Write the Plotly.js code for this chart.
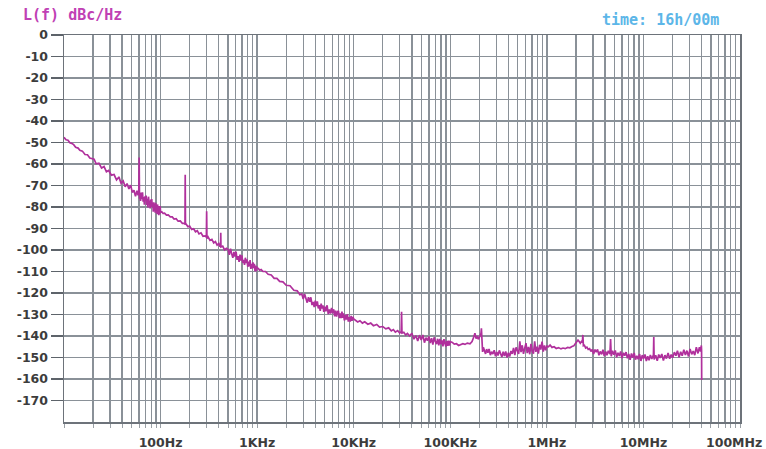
<!DOCTYPE html>
<html>
<head>
<meta charset="utf-8">
<script src="https://cdn.plot.ly/plotly-3.0.1.min.js"></script>
<style>html,body{margin:0;padding:0;background:#fff;}#chart{width:766px;height:449px;}</style>
</head>
<body>
<div id="chart"></div>
<script>
// Phase noise L(f) in dBc/Hz versus offset frequency (Hz)
const freq10to100 = [10,10.5,11,11.5,12,12.6,13.2,14,14.6,15.5,16.5,17.5,18.5,19.5,20.5,21.5,23,24.5,26,27.5,29,31,33,35,37,39,41,43,45,47,49,51,53,55,57,58.5,59.5,60,60.5,61,62,63,64,65,66,67,68,69,70,71,72,73,74,75,76,77,78,79,80,81,82,83,84,85,86,87,88,89,90,91,92,93,94,95,96,97,98,99,100];
const level10to100 = [-47.6,-48.7,-48.9,-50.1,-50.4,-51.0,-52.2,-52.6,-53.6,-54.0,-55.6,-55.7,-57.2,-57.4,-57.8,-59.9,-59.6,-61.9,-61.2,-63.6,-63.0,-65.2,-64.9,-67.4,-66.0,-69.0,-67.9,-70.6,-69.1,-71.6,-69.8,-73.2,-72.2,-75.0,-72.4,-74.6,-72.6,-57.0,-76.2,-74.0,-77.2,-73.3,-76.3,-73.2,-77.5,-75.4,-78.9,-75.0,-77.1,-74.7,-79.1,-76.2,-80.2,-75.2,-78.9,-77.8,-80.7,-76.5,-80.1,-76.3,-79.7,-78.0,-82.2,-77.8,-81.6,-79.1,-82.6,-78.0,-81.1,-79.0,-83.4,-78.8,-82.4,-80.7,-83.8,-79.6,-83.3,-79.6,-82.5];

const freq100to1k = [103,106,110,115,120,126,132,138,145,152,160,168,175,179,180,181,184,192,200,210,220,230,240,250,262,275,288,298,300,302,310,325,340,355,370,385,400,412,418,420,422,440,460,480,500,515,530,545,560,575,590,605,620,635,650,665,680,695,710,725,740,755,770,785,800,815,830,845,860,875,890,905,920,935,950,965,980,990,1000];
const level100to1k = [-82.2,-83.0,-82.9,-83.8,-83.7,-84.6,-84.6,-85.6,-85.4,-86.6,-86.5,-87.6,-87.5,-88.0,-65.0,-88.0,-88.0,-89.2,-88.9,-90.4,-90.1,-91.5,-91.0,-92.5,-92.0,-93.6,-93.4,-94.0,-82.0,-94.6,-93.9,-95.5,-95.1,-96.7,-96.1,-97.7,-97.0,-98.4,-98.0,-92.0,-98.6,-98.2,-99.9,-99.2,-99.8,-102.2,-99.4,-101.8,-103.6,-100.9,-103.1,-100.8,-104.6,-102.8,-105.5,-102.2,-104.9,-102.5,-106.0,-104.6,-106.9,-103.6,-106.1,-104.4,-107.8,-105.4,-107.6,-104.7,-108.8,-106.5,-108.6,-105.7,-108.4,-106.4,-109.9,-107.2,-109.9,-107.6,-108.4];

const freq1kto10k = [1030,1060,1100,1150,1220,1300,1400,1500,1600,1710,1850,2000,2190,2400,2600,2770,2900,3000,3100,3200,3300,3400,3500,3600,3700,3800,3900,4000,4100,4200,4300,4400,4500,4600,4700,4800,4900,5000,5150,5300,5450,5600,5750,5900,6050,6200,6350,6500,6650,6800,6950,7100,7250,7400,7550,7700,7850,8000,8200,8400,8600,8800,9000,9200,9400,9600,9800,10000];
const level1kto10k = [-108.6,-109.4,-109.1,-110.0,-110.0,-111.3,-111.6,-113.2,-113.2,-114.6,-114.8,-116.4,-116.6,-118.7,-119.0,-120.8,-120.4,-122.8,-120.5,-122.8,-124.5,-122.0,-124.1,-122.0,-125.6,-124.1,-126.6,-123.6,-126.1,-123.9,-127.2,-125.6,-128.3,-124.9,-127.2,-125.7,-128.8,-126.3,-128.5,-125.7,-129.8,-127.7,-129.6,-126.9,-129.4,-127.6,-130.9,-128.2,-131.0,-128.8,-128.3,-131.7,-129.5,-131.7,-128.6,-131.5,-129.5,-132.8,-130.3,-132.4,-129.8,-133.3,-131.3,-133.3,-130.7,-132.9,-131.1,-132.1];

const freq10kto100k = [10500,11000,11600,12300,13000,14000,15000,16000,17300,18500,20000,21500,23000,24500,25700,27000,28500,30000,31000,31300,31600,33000,34500,36000,38000,40000,42000,44000,46000,48000,50000,52000,54000,56000,58000,60000,62000,64000,66000,68000,70000,72000,74000,76000,78000,80000,82000,84000,86000,88000,90000,92000,94000,96000,98000,100000];
const level10kto100k = [-132.8,-133.5,-132.9,-134.0,-133.4,-134.5,-134.0,-135.2,-134.6,-135.9,-135.6,-136.7,-136.2,-137.6,-137.0,-138.2,-137.5,-138.6,-138.0,-128.7,-138.6,-138.3,-139.5,-138.8,-140.0,-138.7,-141.5,-139.8,-142.3,-139.6,-141.8,-139.5,-143.1,-140.8,-142.2,-140.2,-143.3,-141.0,-144.0,-140.6,-142.5,-143.8,-141.3,-144.3,-141.3,-143.8,-142.1,-144.8,-141.5,-143.7,-144.9,-142.3,-144.6,-142.1,-144.5,-142.6];

const freq100kto1M = [105000,110000,116000,122000,128000,135000,142000,150000,160000,168000,175000,180000,185000,190000,196000,203000,208000,210000,212000,216000,220000,226000,232000,238000,245000,252000,260000,268000,276000,285000,294000,303000,312000,322000,332000,342000,353000,364000,375000,387000,399000,412000,425000,438000,452000,466000,480000,495000,510000,525000,540000,556000,573000,590000,608000,626000,645000,665000,685000,705000,726000,748000,770000,793000,817000,841000,866000,892000,918000,945000,973000,1000000];
const level100kto1M = [-143.0,-143.8,-143.6,-144.4,-144.1,-143.6,-143.9,-143.3,-143.6,-142.6,-140.5,-138.7,-141.2,-140.4,-141.5,-139.5,-138.8,-136.4,-145.8,-147.4,-145.3,-147.0,-148.3,-146.1,-147.8,-146.0,-148.9,-147.3,-148.4,-146.6,-149.4,-147.4,-149.1,-146.7,-148.6,-149.8,-147.3,-149.3,-147.2,-150.0,-147.8,-149.5,-147.0,-148.3,-145.5,-148.9,-145.3,-146.9,-148.3,-142.5,-147.5,-144.3,-148.3,-145.7,-143.3,-148.0,-145.1,-148.5,-143.7,-147.0,-148.2,-142.5,-147.4,-145.0,-148.2,-144.1,-146.3,-142.6,-147.3,-144.4,-146.7,-144.7];

const freq1Mto40M = [1040000,1080000,1130000,1190000,1250000,1320000,1400000,1470000,1550000,1640000,1730000,1820000,1900000,1970000,2040000,2100000,2160000,2220000,2280000,2330000,2360000,2390000,2450000,2520000,2600000,2680000,2770000,2860000,2950000,3050000,3150000,3250000,3350000,3460000,3570000,3690000,3810000,3930000,4060000,4190000,4330000,4500000,4570000,4640000,4790000,4950000,5110000,5280000,5450000,5630000,5810000,6000000,6200000,6400000,6610000,6830000,7050000,7280000,7520000,7770000,8020000,8280000,8550000,8830000,9120000,9420000,9730000,10050000,10380000,10720000,11070000,11430000,11800000,12200000,12700000,12800000,12900000,13400000,13900000,14400000,14900000,15500000,16100000,16700000,17300000,18000000,18700000,19400000,20100000,20900000,21700000,22500000,23400000,24300000,25200000,26200000,27200000,28200000,29300000,30400000,31600000,32800000,34000000,35300000,36700000,38000000,39000000,39800000,40000000,40100000];
const level1Mto40M = [-145.0,-144.2,-145.3,-145.0,-145.8,-145.4,-146.0,-145.6,-145.9,-145.3,-145.5,-144.9,-144.6,-143.6,-142.6,-141.9,-142.6,-143.4,-142.6,-143.0,-139.5,-144.5,-144.3,-145.6,-145.2,-146.2,-145.9,-147.2,-146.2,-148.4,-146.3,-147.5,-146.2,-149.0,-147.2,-148.5,-146.4,-149.3,-147.2,-148.9,-146.9,-148.4,-141.4,-149.4,-146.9,-148.7,-146.7,-149.9,-147.8,-149.3,-147.2,-150.3,-147.8,-149.1,-147.5,-150.4,-148.4,-151.1,-148.1,-150.1,-147.9,-151.0,-149.2,-150.8,-148.4,-151.6,-148.9,-150.5,-148.6,-151.7,-149.4,-151.3,-148.8,-150.7,-148.7,-140.5,-150.9,-149.0,-151.5,-148.6,-150.2,-148.4,-151.4,-148.9,-150.5,-147.9,-150.6,-148.6,-150.1,-147.5,-149.2,-146.9,-149.9,-147.3,-149.2,-146.4,-148.8,-146.8,-149.5,-146.0,-148.5,-147.0,-148.9,-145.2,-148.1,-145.2,-147.2,-144.4,-146.6,-160.5];

// Axis ticks (the last decade label is drawn as an annotation so it stays inside the page)
const decadeTicks = [10,100,1e3,1e4,1e5,1e6,1e7,1e8];
const decadeLabels = ['','100Hz','1KHz','10KHz','100KHz','1MHz','10MHz','100MHz'];
const levelTicks = [0,-10,-20,-30,-40,-50,-60,-70,-80,-90,-100,-110,-120,-130,-140,-150,-160,-170];

const freqHz = [].concat(freq10to100, freq100to1k, freq1kto10k, freq10kto100k, freq100kto1M, freq1Mto40M);
const levelDb = [].concat(level10to100, level100to1k, level1kto10k, level10kto100k, level100kto1M, level1Mto40M);

// gridline positions 1..9 in every decade
const xTickVals = [], xTickText = [];
for (let d = 0; d < decadeTicks.length; d++) {
  const base = decadeTicks[d];
  const last = d === decadeTicks.length - 1;
  xTickVals.push(base); xTickText.push(last ? '' : decadeLabels[d]);
  if (!last) {
    for (let m = 2; m <= 9; m++) { xTickVals.push(base * m); xTickText.push(''); }
  }
}

const gridCol = '#8a9198';
const axisFont = {family: 'DejaVu Sans, sans-serif', size: 12.5, color: '#3c3c3c', weight: 'bold'};

const trace = {
  x: freqHz, y: levelDb, type: 'scatter', mode: 'lines',
  line: {color: '#b0309c', width: 1.7}, hoverinfo: 'skip'
};

const layout = {
  width: 766, height: 449,
  margin: {l: 64, r: 26, t: 35, b: 27, pad: 0},
  paper_bgcolor: '#ffffff', plot_bgcolor: '#ffffff',
  showlegend: false,
  title: {text: 'L(f) dBc/Hz', x: 23/766, xanchor: 'left', xref: 'container', y: 1 - 15/449, yanchor: 'middle', yref: 'container',
          font: {family: 'DejaVu Sans Mono, monospace', size: 15, color: '#c040b4', weight: 'bold'}},
  xaxis: {
    type: 'log', range: [1, 8], tickmode: 'array', tickvals: xTickVals, ticktext: xTickText,
    showgrid: true, gridcolor: gridCol, gridwidth: 1.4,
    showline: true, linecolor: '#6d737a', linewidth: 1.5, mirror: true,
    ticks: 'outside', ticklen: 4, tickcolor: '#9aa0a6', tickwidth: 1,
    ticklabelstandoff: 4, tickfont: axisFont, zeroline: false, fixedrange: true
  },
  yaxis: {
    range: [-180, 0], tickmode: 'array', tickvals: levelTicks, ticktext: levelTicks.map(String),
    showgrid: true, gridcolor: gridCol, gridwidth: 1.4,
    showline: true, linecolor: '#6d737a', linewidth: 1.5, mirror: true,
    ticks: 'outside', ticklen: 12, tickcolor: '#5d636a', tickwidth: 1.5,
    tickfont: axisFont, zeroline: false, fixedrange: true
  },
  annotations: [
    {
      text: 'time: 16h/00m', xref: 'paper', yref: 'paper',
      x: (660-64)/676, y: (422-20)/387, xanchor: 'center', yanchor: 'middle', showarrow: false,
      font: {family: 'DejaVu Sans Mono, monospace', size: 15, color: '#5cb6e8', weight: 'bold'}
    },
    {
      text: decadeLabels[decadeLabels.length - 1], xref: 'paper', yref: 'paper',
      x: (764-64)/676, y: (422-442)/387, xanchor: 'right', yanchor: 'middle', showarrow: false,
      font: axisFont
    }
  ]
};

Plotly.newPlot('chart', [trace], layout, {staticPlot: true, displayModeBar: false});
</script>
</body>
</html>
